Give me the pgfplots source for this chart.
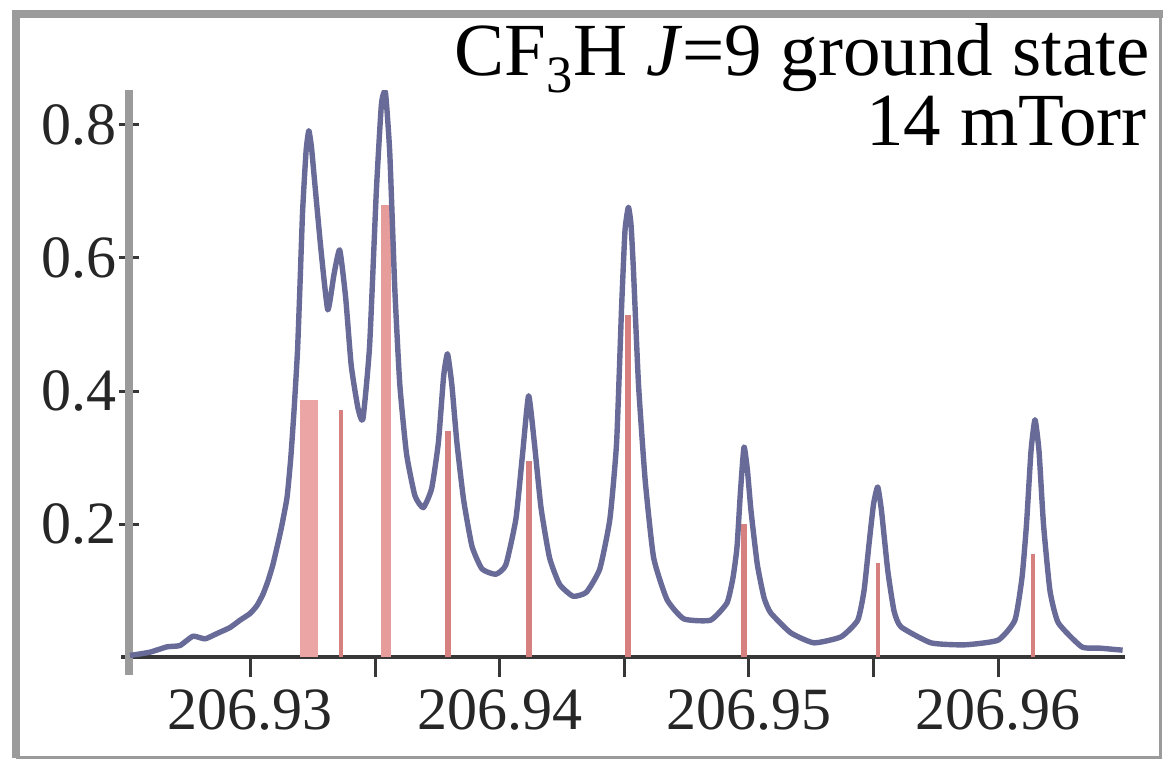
\documentclass[border=0pt]{standalone}
\usepackage{fontspec}
\setmainfont{Liberation Serif}
\usepackage{pgfplots}
\usepackage{pgfplotstable}
\pgfplotsset{compat=1.18}
\definecolor{spec}{RGB}{104,106,152}
\definecolor{stick}{RGB}{214,128,128}
\definecolor{stickw}{RGB}{236,165,165}
\definecolor{framec}{RGB}{155,155,155}
\definecolor{axc}{RGB}{55,55,55}

\pgfplotstableread{
x y
206.925164 0.003
206.925967 0.008
206.926649 0.016
206.927171 0.018
206.927692 0.032
206.928174 0.028
206.928656 0.036
206.929177 0.045
206.929579 0.056
206.92998 0.066
206.930261 0.078
206.930502 0.095
206.930702 0.115
206.930903 0.140
206.931212 0.190
206.931465 0.240
206.931617 0.300
206.931746 0.370
206.931886 0.460
206.931987 0.560
206.932091 0.670
206.932230 0.760
206.932340 0.791
206.932450 0.765
206.93258 0.712
206.932829 0.612
206.933102 0.522
206.933350 0.575
206.933580 0.612
206.933820 0.540
206.934041 0.439
206.93431 0.375
206.934511 0.358
206.93478 0.468
206.935049 0.699
206.935253 0.830
206.935414 0.849
206.93559 0.757
206.935791 0.554
206.935992 0.410
206.936261 0.306
206.936598 0.243
206.936935 0.225
206.937272 0.254
206.937541 0.323
206.93775 0.422
206.937906 0.456
206.938079 0.410
206.938283 0.323
206.938552 0.237
206.938889 0.167
206.939291 0.133
206.939841 0.125
206.940246 0.139
206.940651 0.208
206.94092 0.306
206.941161 0.393
206.94139 0.323
206.941659 0.225
206.942 0.150
206.942401 0.110
206.942943 0.092
206.943481 0.098
206.944018 0.133
206.944424 0.208
206.944693 0.323
206.944893 0.526
206.94503 0.641
206.945166 0.676
206.945271 0.650
206.945367 0.583
206.945572 0.410
206.94584 0.266
206.946178 0.150
206.946715 0.087
206.94739 0.058
206.948461 0.056
206.949123 0.082
206.949364 0.120
206.949525 0.166
206.949665 0.250
206.949806 0.316
206.949946 0.280
206.950087 0.220
206.950339 0.140
206.950608 0.090
206.950877 0.067
206.951684 0.037
206.952615 0.022
206.953699 0.031
206.954369 0.056
206.954622 0.100
206.954822 0.170
206.955003 0.230
206.955172 0.256
206.955324 0.220
206.955577 0.130
206.955826 0.070
206.956105 0.046
206.95731 0.022
206.958663 0.019
206.96 0.026
206.960677 0.056
206.960963 0.120
206.961143 0.200
206.961324 0.310
206.961484 0.357
206.961645 0.310
206.961825 0.200
206.962086 0.100
206.962419 0.052
206.963359 0.016
206.964093 0.014
206.965 0.011
}\spectrum

\begin{document}
\begin{tikzpicture}
\useasboundingbox (0pt,0pt) rectangle (581.5pt,-381pt);
\fill[white] (0pt,0pt) rectangle (581.5pt,-381pt);
\draw[framec, line width=4pt] (8pt,-379pt) -- (8pt,-7pt) -- (581.5pt,-7pt);
\draw[framec, line width=1.5pt] (8pt,-378.5pt) -- (580.2pt,-378.5pt) -- (580.2pt,-7pt);
\begin{axis}[
  at={(64.5pt,-337.5pt)}, anchor=south west,
  scale only axis, width=497.8pt, height=292.5pt,
  x coord trafo/.code={\pgfmathfloatparsenumber{#1}\pgfmathfloattosci{\pgfmathresult}\edef\pgfmathresult{\fpeval{(\pgfmathresult-206.93)*1000}}},
  xmin=206.925124, xmax=206.96508,
  ymin=-0.0263, ymax=0.8521,
  axis x line=middle, axis y line=left,
  x axis line style={-, line width=2pt, color=axc, shorten <=-4pt},
  y axis line style={-, line width=4pt, color=framec},
  xtick={206.93,206.94,206.95,206.96},
  xticklabels={\textrm{206.93},\textrm{206.94},\textrm{206.95},\textrm{206.96}},
  minor xtick={206.935,206.945,206.955},
  ytick={0.2,0.4,0.6,0.8},
  yticklabels={\textrm{0.2},\textrm{0.4},\textrm{0.6},\textrm{0.8}},
  xtick align=outside, ytick align=center,
  major tick length=10pt, minor tick length=10pt,
  tick style={line width=1.5pt, color=axc},
  tick label style={font=\fontsize{30}{32}\selectfont, text=black!85},
  xticklabel style={anchor=base, inner sep=0pt, yshift=-26pt},
  yticklabel style={anchor=east, inner sep=0pt, xshift=-1pt},
]
\addplot[ycomb, stickw, line width=9pt, mark=none] coordinates {(206.932348,0.386)};
\addplot[ycomb, stick, line width=2.4pt, mark=none] coordinates {(206.933632,0.372) (206.955183,0.142) (206.961404,0.155)};
\addplot[ycomb, stickw!75!stick, line width=5pt, mark=none] coordinates {(206.935438,0.68)};
\addplot[ycomb, stick, line width=3pt, mark=none] coordinates {(206.937926,0.34) (206.941189,0.295) (206.949806,0.20)};
\addplot[ycomb, stick, line width=3pt, mark=none] coordinates {(206.945166,0.514)};
\addplot[spec, line width=2.7pt, line join=round, smooth, tension=0.3, mark=none] table {\spectrum};
\end{axis}
\node[anchor=base east, inner sep=0pt, font=\fontsize{37.5}{42}\selectfont] at (575pt,-37.5pt) {CF\textsubscript{3}H \textit{J}=9 ground state};
\node[anchor=base east, inner sep=0pt, font=\fontsize{37.5}{42}\selectfont] at (573.5pt,-72.5pt) {14 mTorr};
\end{tikzpicture}
\end{document}
